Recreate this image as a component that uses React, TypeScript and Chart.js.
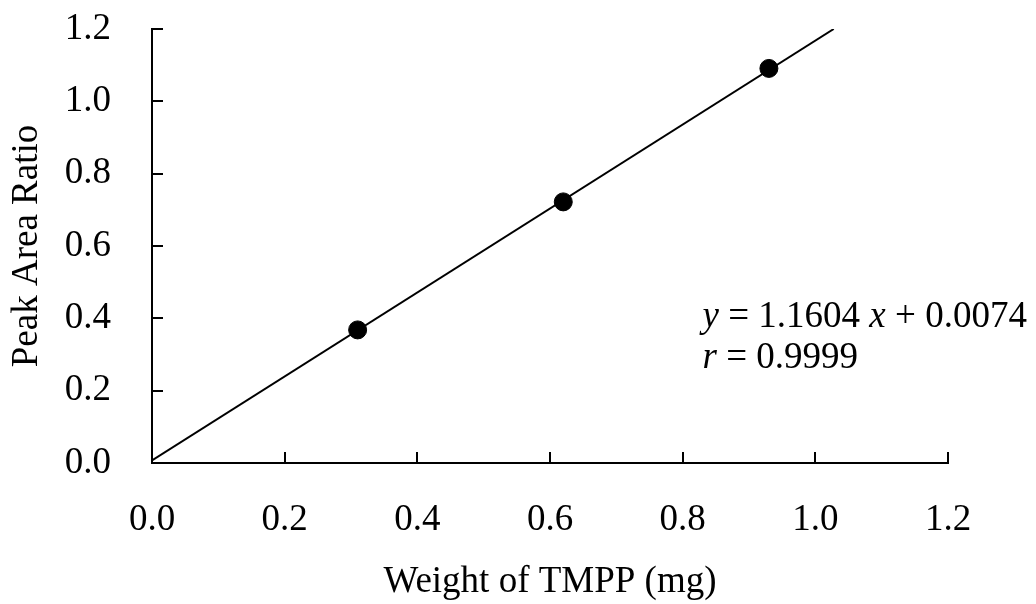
import React, { useEffect, useRef } from "react";
import { Chart, registerables } from "chart.js";

Chart.register(...registerables);

// Data
const weights = [0.31, 0.62, 0.93];
const ratios = [0.368, 0.722, 1.091];
const slope = 1.1604;
const intercept = 0.0074;
const rValue = "0.9999";
const xTicks = [0, 0.2, 0.4, 0.6, 0.8, 1.0, 1.2];
const yTicks = [0, 0.2, 0.4, 0.6, 0.8, 1.0, 1.2];
const axisMin = 0;
const axisMax = 1.2;

// Annotation anchor (data coordinates)
const annX = 0.83;
const annY1 = 0.376;
const annY2 = 0.263;

const FONT = "'Times New Roman', 'Liberation Serif', serif";
const FS = 37;

const lineEndX = (axisMax - intercept) / slope;
const fitLine = [
  { x: 0, y: intercept },
  { x: lineEndX, y: slope * lineEndX + intercept },
];

const inwardTicks = {
  id: "inwardTicks",
  afterDraw(chart: any) {
    const { ctx, scales } = chart;
    const xs = scales.x;
    const ys = scales.y;
    ctx.save();
    ctx.strokeStyle = "#000";
    ctx.lineWidth = 2;
    ctx.beginPath();
    xTicks.forEach((v) => {
      const px = Math.round(xs.getPixelForValue(v));
      ctx.moveTo(px, ys.bottom);
      ctx.lineTo(px, ys.bottom - 11);
    });
    yTicks.forEach((v) => {
      const py = Math.round(ys.getPixelForValue(v));
      ctx.moveTo(xs.left, py);
      ctx.lineTo(xs.left + 11, py);
    });
    ctx.stroke();

    // annotation
    const drawParts = (parts: [string, boolean][], x: number, y: number) => {
      let cx = x;
      parts.forEach(([t, italic]) => {
        ctx.font = `${italic ? "italic " : ""}${FS}px ${FONT}`;
        ctx.fillText(t, cx, y);
        cx += ctx.measureText(t).width;
      });
    };
    ctx.fillStyle = "#000";
    ctx.textBaseline = "alphabetic";
    ctx.textAlign = "left";
    const ax = xs.getPixelForValue(annX);
    drawParts(
      [
        ["y", true],
        [` = ${slope.toFixed(4)} `, false],
        ["x", true],
        [` + ${intercept.toFixed(4)}`, false],
      ],
      ax,
      ys.getPixelForValue(annY1)
    );
    drawParts(
      [
        ["r", true],
        [` = ${rValue}`, false],
      ],
      ax,
      ys.getPixelForValue(annY2)
    );
    ctx.restore();
  },
};

export default function App() {
  const ref = useRef<HTMLCanvasElement>(null);
  useEffect(() => {
    if (!ref.current) return;
    const chart = new Chart(ref.current, {
      type: "scatter",
      data: {
        datasets: [
          {
            data: fitLine,
            showLine: true,
            borderColor: "#000",
            borderWidth: 2,
            pointRadius: 0,
            fill: false,
          },
          {
            data: weights.map((w, i) => ({ x: w, y: ratios[i] })),
            pointRadius: 9,
            pointBackgroundColor: "#000",
            pointBorderColor: "#000",
            showLine: false,
          },
        ],
      },
      plugins: [inwardTicks],
      options: {
        animation: false,
        responsive: false,
        maintainAspectRatio: false,
        layout: { padding: { top: 29, right: 88, left: 0, bottom: 0 } },
        plugins: { legend: { display: false }, tooltip: { enabled: false } },
        scales: {
          x: {
            type: "linear",
            min: axisMin,
            max: axisMax,
            afterFit: (s: any) => {
              s.height = 141;
              s.paddingLeft = 0;
              s.paddingRight = 0;
            },
            afterBuildTicks: (s: any) => {
              s.ticks = xTicks.map((v) => ({ value: v }));
            },
            grid: { display: false, drawTicks: false },
            border: { display: true, color: "#000", width: 2 },
            ticks: {
              padding: 35,
              color: "#000",
              font: { family: FONT, size: FS },
              callback: (v: any) => Number(v).toFixed(1),
              maxRotation: 0,
            },
            title: {
              display: true,
              text: "Weight of TMPP (mg)",
              color: "#000",
              font: { family: FONT, size: FS },
              padding: { top: 0, bottom: 0 },
            },
          },
          y: {
            type: "linear",
            min: axisMin,
            max: axisMax,
            afterFit: (s: any) => {
              s.width = 152;
              s.paddingTop = 0;
              s.paddingBottom = 0;
            },
            afterBuildTicks: (s: any) => {
              s.ticks = yTicks.map((v) => ({ value: v }));
            },
            grid: { display: false, drawTicks: false },
            border: { display: true, color: "#000", width: 2 },
            ticks: {
              padding: 41,
              color: "#000",
              font: { family: FONT, size: FS },
              callback: (v: any) => Number(v).toFixed(1),
            },
            title: {
              display: true,
              text: "Peak Area Ratio",
              color: "#000",
              font: { family: FONT, size: FS },
              padding: { top: 5, bottom: 0 },
            },
          },
        },
      },
    });
    return () => chart.destroy();
  }, []);
  return (
    <div style={{ position: "fixed", left: 0, top: 0, width: 1036, height: 604, background: "#fff" }}>
      <canvas ref={ref} width={1036} height={604} style={{ width: 1036, height: 604 }} />
    </div>
  );
}
